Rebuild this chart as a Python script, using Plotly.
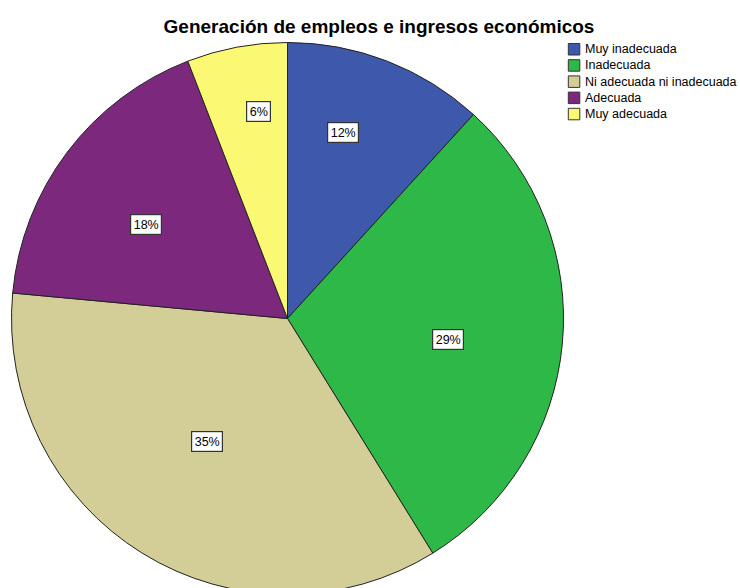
import math
import plotly.graph_objects as go

# ---------------- data ----------------
categories = ["Muy inadecuada", "Inadecuada", "Ni adecuada ni inadecuada", "Adecuada", "Muy adecuada"]
counts = [4, 10, 12, 6, 2]
colors = ["#3E58AC", "#2EB848", "#D3CE97", "#7C287D", "#FBF873"]
title_text = "Generación de empleos e ingresos económicos"

# ---------------- layout / style ----------------
W, H = 740, 596          # page is 588 tall; pie runs slightly past the bottom as in the reference
cx, cy, R = 287.5, 318.5, 276.0
FONT = "Liberation Sans, Arial, sans-serif"

# label placement (style): radius fraction and angular offset from slice middle
label_rfrac = [0.703, 0.586, 0.531, 0.617, 0.757]
label_dang = [-4.6, 2.3, 1.5, -3.4, 2.6]

total = sum(counts)

fig = go.Figure()
fig.add_trace(go.Pie(
    labels=categories,
    values=counts,
    sort=False,
    direction="clockwise",
    rotation=0,
    marker=dict(colors=colors, line=dict(color="#222222", width=1)),
    textinfo="none",
    hoverinfo="label+percent",
    showlegend=False,
    domain=dict(x=[(cx - R) / W, (cx + R) / W], y=[1 - (cy + R) / H, 1 - (cy - R) / H]),
))

annotations = []
cum = 0
for i, c in enumerate(counts):
    mid = (cum + c / 2) / total * 360 + label_dang[i]
    cum += c
    r = R * label_rfrac[i]
    px = cx + r * math.sin(math.radians(mid))
    py = cy - r * math.cos(math.radians(mid))
    annotations.append(dict(
        x=px / W, y=1 - py / H, xref="paper", yref="paper",
        text=f"{round(100 * c / total)}%", showarrow=False,
        font=dict(family=FONT, size=12.5, color="#000000"),
        bgcolor="#FFFFFF", bordercolor="#333333", borderwidth=1.2, borderpad=2.5,
        xanchor="center", yanchor="middle",
    ))

# custom legend (colour squares + labels)
shapes = []
leg_x, leg_top, leg_step, sq = 568.3, 43.5, 16.2, 11.5
for i, (lab, col) in enumerate(zip(categories, colors)):
    y0 = leg_top + i * leg_step
    shapes.append(dict(
        type="rect", xref="paper", yref="paper",
        x0=leg_x / W, x1=(leg_x + sq) / W, y0=1 - y0 / H, y1=1 - (y0 + sq) / H,
        fillcolor=col, line=dict(color="#333333", width=1),
    ))
    annotations.append(dict(
        x=(leg_x + sq + 3) / W, y=1 - (y0 + sq / 2) / H, xref="paper", yref="paper",
        text=lab, showarrow=False, xanchor="left", yanchor="middle",
        font=dict(family=FONT, size=12.5, color="#000000"),
    ))

fig.update_layout(
    width=W, height=H,
    margin=dict(l=0, r=0, t=0, b=0),
    paper_bgcolor="#FFFFFF",
    plot_bgcolor="#FFFFFF",
    title=dict(text=f"<b>{title_text}</b>", x=379 / W, xanchor="center", y=1 - 26.5 / H, yanchor="middle",
               font=dict(family=FONT, size=19, color="#000000")),
    annotations=annotations,
    shapes=shapes,
    showlegend=False,
)

fig.write_html(
    "out.html",
    config={"displayModeBar": False},
    post_script="document.body.style.margin='0';document.body.style.overflow='hidden';",
)
